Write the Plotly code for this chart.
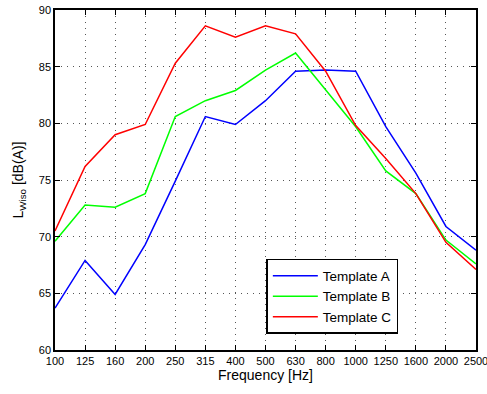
import plotly.graph_objects as go

FREQS = ["100", "125", "160", "200", "250", "315", "400", "500", "630",
         "800", "1000", "1250", "1600", "2000", "2500"]
TEMPLATE_A = [63.7, 67.9, 64.9, 69.3, 74.9, 80.6, 79.9, 82.0, 84.6,
              84.7, 84.6, 79.7, 75.6, 70.9, 68.8]
TEMPLATE_B = [69.6, 72.8, 72.6, 73.8, 80.6, 82.0, 82.9, 84.7, 86.2,
              82.9, 79.7, 75.8, 73.8, 69.7, 67.6]
TEMPLATE_C = [70.5, 76.2, 79.0, 79.9, 85.3, 88.6, 87.6, 88.6, 87.9,
              84.6, 79.8, 76.9, 73.8, 69.5, 67.1]

SERIES = [
    ("Template A", TEMPLATE_A, "#0000ff"),
    ("Template B", TEMPLATE_B, "#00ff00"),
    ("Template C", TEMPLATE_C, "#ff0000"),
]

FONT = "Liberation Sans, Arial, sans-serif"

fig = go.Figure()
for name, vals, color in SERIES:
    fig.add_trace(go.Scatter(
        x=FREQS, y=vals, name=name, mode="lines",
        line=dict(color=color, width=1.5),
    ))

axis_common = dict(
    automargin=False,
    showline=True, linecolor="black", linewidth=1.5, mirror="ticks",
    ticks="inside", ticklen=5, tickcolor="black",
    showgrid=True, gridcolor="#555555", griddash="1px,5px", gridwidth=1,
    zeroline=False,
    tickfont=dict(family=FONT, size=11, color="black"),
)

fig.update_layout(
    template="none",
    width=487, height=394,
    margin=dict(l=55, r=11, t=10, b=44),
    paper_bgcolor="white", plot_bgcolor="white",
    font=dict(family=FONT, color="black"),
    xaxis=dict(
        type="category", range=[0, len(FREQS) - 1],
        title=dict(text="Frequency [Hz]", font=dict(size=14), standoff=3),
        **axis_common,
    ),
    yaxis=dict(
        range=[60, 90], dtick=5,
        title=dict(text="L<sub>Wiso</sub> [dB(A)]", font=dict(size=14), standoff=12),
        **axis_common,
    ),
    legend=dict(
        x=0.502, y=0.268, xanchor="left", yanchor="top",
        bordercolor="black", borderwidth=1.5, bgcolor="white",
        font=dict(family=FONT, size=13.5, color="black"),
        tracegroupgap=0, itemwidth=45,
    ),
)

# the page body has a default 8px margin; drop it so the figure sits at (0, 0)
fig.write_html("out.html", config={"displayModeBar": False},
               post_script="document.body.style.margin='0';")
